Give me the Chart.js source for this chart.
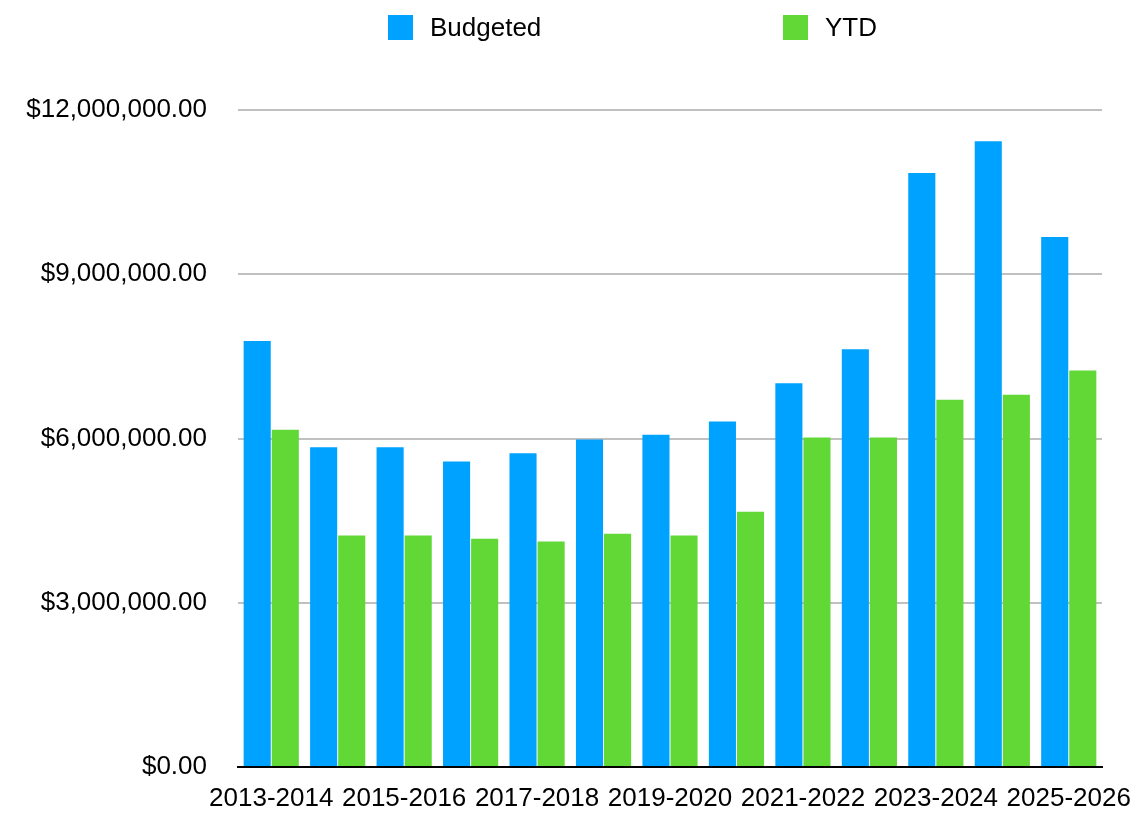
<!DOCTYPE html>
<html>
<head>
<meta charset="utf-8">
<script src="https://cdn.jsdelivr.net/npm/chart.js@4.4.0/dist/chart.umd.min.js"></script>
<style>
	html, body { margin: 0; padding: 0; background: #fff; }
	#wrap { position: relative; width: 1141px; height: 821px; font-family: 'Liberation Sans', Arial, sans-serif; }
	.legend-item { position: absolute; top: 14px; height: 26px; display: flex; align-items: center; font-size: 26px; color: #000; }
	.legend-box { width: 25px; height: 25px; margin-right: 17px; }
</style>
</head>
<body>
<div id="wrap">
	<canvas id="canvas0" width="1141" height="821"></canvas>
	<div class="legend-item" style="left:388px"><span class="legend-box" style="background:#00A2FF"></span>Budgeted</div>
	<div class="legend-item" style="left:783px"><span class="legend-box" style="background:#61D836"></span>YTD</div>
</div>
<script>
const years = ['2013-2014', '2014-2015', '2015-2016', '2016-2017', '2017-2018', '2018-2019', '2019-2020',
	'2020-2021', '2021-2022', '2022-2023', '2023-2024', '2024-2025', '2025-2026'];

const budgeted = [7780000, 5840000, 5840000, 5580000, 5730000, 5980000, 6070000,
	6310000, 7010000, 7630000, 10850000, 11430000, 9680000];

const ytd = [6160000, 4230000, 4230000, 4170000, 4120000, 4260000, 4230000,
	4660000, 6020000, 6020000, 6710000, 6800000, 7240000];

const yTicks = [0, 3000000, 6000000, 9000000, 12000000];

function money(v) {
	return '$' + v.toLocaleString('en-US', { minimumFractionDigits: 2, maximumFractionDigits: 2 });
}

const ctx = document.getElementById('canvas0').getContext('2d');

new Chart(ctx, {
	type: 'bar',
	data: {
		labels: years,
		datasets: [{
			label: 'Budgeted',
			data: budgeted,
			backgroundColor: '#00A2FF',
			categoryPercentage: 0.845,
			barPercentage: 0.965
		}, {
			label: 'YTD',
			data: ytd,
			backgroundColor: '#61D836',
			categoryPercentage: 0.845,
			barPercentage: 0.965
		}]
	},
	options: {
		responsive: false,
		animation: false,
		layout: { padding: { top: 110, right: 39, bottom: 0, left: 0 } },
		plugins: {
			legend: { display: false },
			tooltip: { enabled: false }
		},
		scales: {
			x: {
				grid: { display: false },
				border: { display: true, color: '#000', width: 2 },
				afterFit: (s) => {
					s.height = 54;
					s.paddingLeft = 0;
					s.paddingRight = 0;
				},
				ticks: {
					autoSkip: false,
					maxRotation: 0,
					padding: 8,
					color: '#000',
					font: { family: 'Liberation Sans', size: 26 },
					callback: function(val, i) { return i % 2 === 0 ? years[i] : ''; }
				}
			},
			y: {
				min: 0,
				max: 12000000,
				afterFit: (s) => { s.width = 238; },
				afterBuildTicks: (s) => { s.ticks = yTicks.map(v => ({ value: v })); },
				border: { display: false },
				grid: { color: '#c0c0c0', lineWidth: 2, drawTicks: false },
				ticks: {
					padding: 31,
					color: '#000',
					font: { family: 'Liberation Sans', size: 26 },
					callback: (v) => money(v)
				}
			}
		}
	}
});
</script>
</body>
</html>
